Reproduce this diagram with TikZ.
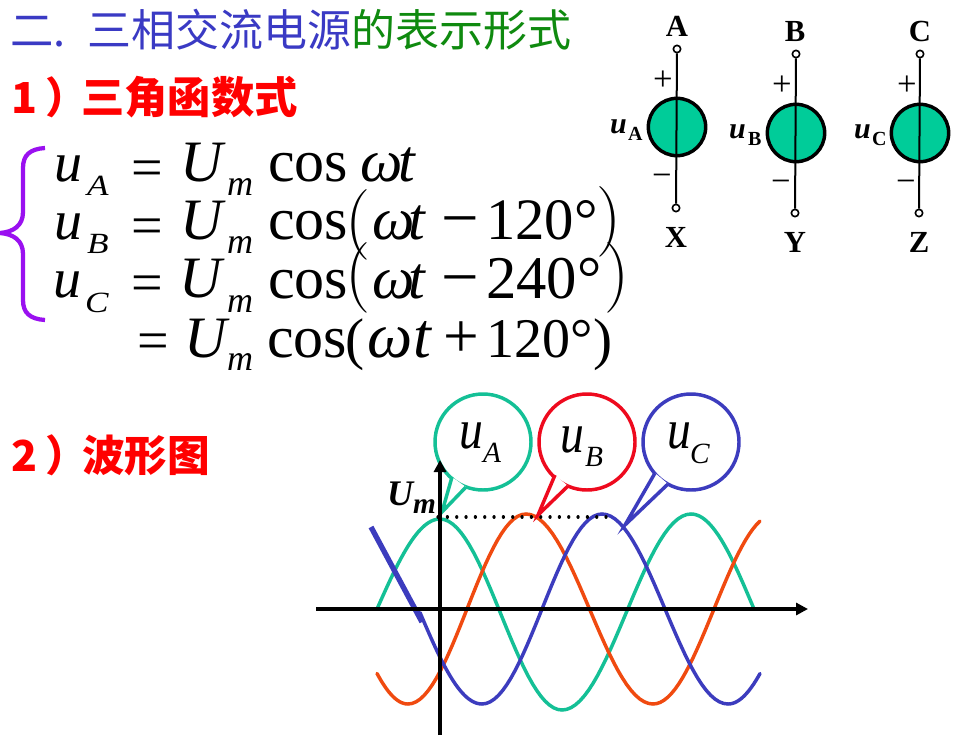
\documentclass[tikz,border=0pt]{standalone}
\usepackage{fontspec}
\setmainfont{Liberation Serif}
\newfontfamily\cjk{Noto Sans CJK SC}
\newfontfamily\lmr{Latin Modern Roman}
\usetikzlibrary{arrows.meta}
\definecolor{titleblue}{HTML}{3A3AC4}
\definecolor{titlegreen}{HTML}{0F8A0F}
\definecolor{hdred}{HTML}{FF0000}
\definecolor{srcgreen}{HTML}{00CC99}
\definecolor{wgreen}{HTML}{14C096}
\definecolor{wred}{HTML}{F04A10}
\definecolor{wblue}{HTML}{3C3CBE}
\definecolor{cred}{HTML}{EE0A1E}
\definecolor{brace}{HTML}{9A10F0}
\newcommand\fs[1]{\fontsize{#1}{#1}\selectfont}
\newcommand\lc{\fs{42}\itshape}
\newcommand\om{\fs{45}\itshape}
\newcommand\uc{\fs{44}\itshape}
\newcommand\sbs[1]{\scalebox{1.2}[1]{\fs{22}\itshape #1}}
\newcommand\smm{\fs{27}\itshape m}
\newcommand\wsub[1]{\fs{22}\itshape #1}
\newcommand\wu{\scalebox{.85}[1]{\fs{42}\itshape u}}
\newcommand\rmf{\fs{45}}
\newcommand\opf{\fs{42}}
\newcommand\parf{\lmr\fs{53}}
\newcommand\T[4]{\node[txt] (#1) at (#2,#3) {#4};}
\newcommand\C[4]{\node[ctxt] (#1) at (#2,#3) {#4};}
% half-cosine between extrema (x0,y0),(x1,y1), drawn over domain a:b
\newcommand\seg[7]{\draw[wave,#1] plot[domain=#6:#7,samples=30] (\x,{(#3+#5)/2+(#3-#5)/2*cos((\x-#2)/(#4-#2)*180)});}
\tikzset{
  txt/.style={anchor=base west,inner sep=0pt,outer sep=0pt},
  ctxt/.style={anchor=base,inner sep=0pt,outer sep=0pt},
  wave/.style={line width=2.6pt,line cap=round,line join=round},
  axisline/.style={line width=2.4pt,-{Triangle[length=9pt,width=9pt]},black},
  bubble/.style={circle,draw,line width=2.6pt,fill=white,minimum size=72pt,inner sep=0pt},
  tail/.style={line width=2.6pt,line join=miter},
  src/.style={circle,draw=black,line width=2.6pt,fill=srcgreen,minimum size=43pt,inner sep=0pt},
  term/.style={circle,draw=black,line width=1.2pt,fill=white,minimum size=5.5pt,inner sep=0pt},
  wire/.style={line width=1.5pt,black},
}
\begin{document}
\begin{tikzpicture}[x=0.75pt,y=-0.75pt]
\useasboundingbox (0,0) rectangle (980,735);
\fill[white] (0,0) rectangle (980,735);
% headings
\T{t1}{10}{47}{\cjk\fs{32.5}\color{titleblue}二.}
\T{t2}{87}{47}{\cjk\fs{33}\color{titleblue}三相交流电源}
\T{t3}{351}{47}{\cjk\fs{33}\color{titlegreen}的表示形式}
\T{h1a}{12}{113}{\cjk\bfseries\fs{32}\color{hdred}1}
\T{h1b}{45}{113}{\cjk\bfseries\fs{32}\color{hdred}）}
\T{h1c}{81}{113}{\cjk\bfseries\fs{32.5}\color{hdred}三角函数式}
\T{h2a}{12}{471}{\cjk\bfseries\fs{32}\color{hdred}2}
\T{h2b}{45}{471}{\cjk\bfseries\fs{32}\color{hdred}）}
\T{h2c}{82}{471}{\cjk\bfseries\fs{32}\color{hdred}波形图}
% brace
\draw[brace,line width=3.2pt] (45,148) .. controls (30,149) and (23,155) .. (23,168) -- (23,212) .. controls (23,226) and (13,232) .. (0,233) .. controls (13,234) and (23,240) .. (23,254) -- (23,300) .. controls (23,313) and (30,319) .. (45,320);
% line 1
\T{a1}{54}{181}{\lc u}
\T{a2}{87}{195}{\sbs{A}}
\T{a3}{131}{186}{\opf =}
\T{a4}{180}{181}{\uc U}
\T{a5}{227}{195}{\smm}
\T{a6}{268}{181}{\rmf cos}
\T{a7}{360}{181}{\om ω}
\T{a8}{398}{181}{\om t}
% line 2
\T{b1}{54}{239}{\lc u}
\T{b2}{87}{253}{\sbs{B}}
\T{b3}{131}{244}{\opf =}
\T{b4}{180}{239}{\uc U}
\T{b5}{227}{253}{\smm}
\T{b6}{268}{239}{\rmf cos}
\T{b7}{345}{242}{\parf (}
\T{b8}{372}{239}{\om ω}
\T{b9}{408}{239}{\om t}
\T{b10}{441}{240}{\fs{50}−}
\T{b11}{486}{239}{\fs{44}120°}
\T{b12}{596}{239}{\parf )}
% line 3
\T{c1}{53}{297}{\lc u}
\T{c2}{85}{312}{\sbs{C}}
\T{c3}{131}{301}{\opf =}
\T{c4}{179}{297}{\uc U}
\T{c5}{227}{312}{\smm}
\T{c6}{268}{298}{\rmf cos}
\T{c7}{345}{295}{\parf (}
\T{c8}{372}{298}{\om ω}
\T{c9}{408}{298}{\om t}
\T{c10}{441}{299}{\fs{50}−}
\T{c11}{486}{298}{\fs{45.5}240°}
\T{c12}{604}{295}{\parf )}
% line 4
\T{d3}{137}{359}{\opf =}
\T{d4}{184}{357}{\uc U}
\T{d5}{227}{370}{\smm}
\T{d6}{267}{357}{\rmf cos}
\T{d7}{345}{358}{\fs{43}(}
\T{d8}{367}{357}{\fs{48}\itshape ω}
\T{d9}{413}{357}{\fs{48}\itshape t}
\T{d10}{443}{357}{\fs{47.5}+}
\T{d11}{486}{357}{\fs{42}120°}
\T{d12}{593}{358}{\fs{43})}
% sources
\node[src] (sa) at (677,127) {};
\node[src] (sb) at (796,133) {};
\node[src] (sc) at (920,133) {};
\node[term] (ta) at (677,49) {};
\node[term] (xa) at (676,208) {};
\node[term] (tb) at (796,54) {};
\node[term] (xb) at (795,213) {};
\node[term] (tc) at (920,54) {};
\node[term] (xc) at (919,213) {};
\draw[wire] (ta) -- (xa);
\draw[wire] (tb) -- (xb);
\draw[wire] (tc) -- (xc);
\C{la}{677}{37}{\bfseries\fs{23}A}
\C{lb}{795}{42}{\bfseries\fs{23}B}
\C{lc}{920}{42}{\bfseries\fs{23}C}
\C{lx}{676}{247}{\bfseries\fs{23}X}
\C{ly}{795}{252}{\bfseries\fs{23}Y}
\C{lz}{919}{252}{\bfseries\fs{23}Z}
\C{pa}{663}{90}{\fs{26}+}
\C{pb}{782}{95}{\fs{26}+}
\C{pc}{907}{95}{\fs{26}+}
\C{ma}{662}{186}{\fs{26}−}
\C{mb}{781}{192}{\fs{26}−}
\C{mc}{906}{192}{\fs{26}−}
\T{ua}{610}{133}{\bfseries\itshape\fs{22.5}u}
\T{uas}{628}{140}{\bfseries\fs{15}A}
\T{ub}{729}{138}{\bfseries\itshape\fs{22.5}u}
\T{ubs}{748}{145}{\bfseries\fs{15}B}
\T{uc}{854}{138}{\bfseries\itshape\fs{22.5}u}
\T{ucs}{872}{145}{\bfseries\fs{15}C}
% waves
\seg{wgreen}{314}{699}{440}{519}{377}{440}
\seg{wgreen}{440}{519}{562}{710}{440}{562}
\seg{wgreen}{562}{710}{691}{514}{562}{691}
\seg{wgreen}{691}{514}{817}{704}{691}{754}
\seg{wred}{290}{514}{408}{704}{377}{408}
\seg{wred}{408}{704}{526}{514}{408}{526}
\seg{wred}{526}{514}{653}{704}{526}{653}
\seg{wred}{653}{704}{775}{514}{653}{760}
\seg{wblue}{355}{514}{482}{704}{420}{482}
\seg{wblue}{482}{704}{602}{514}{482}{602}
\seg{wblue}{602}{514}{728}{704}{602}{728}
\seg{wblue}{728}{704}{850}{514}{728}{760}
\coordinate (thickA) at (371,527);
\coordinate (thickB) at (422,622);
\draw[wblue,line width=4pt] (thickA) -- (thickB);
% dotted peak line
\coordinate (dotA) at (438,517);
\coordinate (dotB) at (606,517);
\draw[black,line width=2.4pt,line cap=round,dash pattern=on 0.1pt off 6.9pt] (dotA) -- (dotB);
% callouts
\node[bubble,draw=wgreen] (ba) at (483,442) {};
\node[bubble,draw=cred] (bb) at (587,442) {};
\node[bubble,draw=wblue] (bc) at (691,442) {};
\coordinate (a1p) at (452,477); \coordinate (a2p) at (442,512); \coordinate (a3p) at (466,487);
\coordinate (b1p) at (555,475); \coordinate (b2p) at (538,515); \coordinate (b3p) at (568,486);
\coordinate (c1p) at (655,473); \coordinate (c2p) at (625,525); \coordinate (c3p) at (668,484);
\fill[white] (a1p) -- (a2p) -- (a3p) -- cycle;
\fill[white] (b1p) -- (b2p) -- (b3p) -- cycle;
\fill[white] (c1p) -- (c2p) -- (c3p) -- cycle;
\draw[tail,wgreen] (a1p) -- (a2p) -- (a3p);
\draw[tail,cred] (b1p) -- (b2p) -- (b3p);
\draw[tail,wblue] (c1p) -- (c2p) -- (c3p);
\T{wa}{459}{448}{\wu}
\T{was}{483}{462}{\wsub{A}}
\T{wb}{560}{452}{\wu}
\T{wbs}{585}{466}{\wsub{B}}
\T{wc}{667}{448}{\wu}
\T{wcs}{690}{463}{\wsub{C}}
\T{um}{387}{505}{\bfseries\itshape\fs{27}U}
\T{ums}{413}{513}{\bfseries\itshape\fs{22}m}
% axes
\coordinate (xs) at (316,609);
\coordinate (xe) at (808,609);
\coordinate (ys) at (440,735);
\coordinate (ye) at (440,460);
\draw[axisline] (xs) -- (xe);
\draw[axisline] (ys) -- (ye);
\end{tikzpicture}
\end{document}
